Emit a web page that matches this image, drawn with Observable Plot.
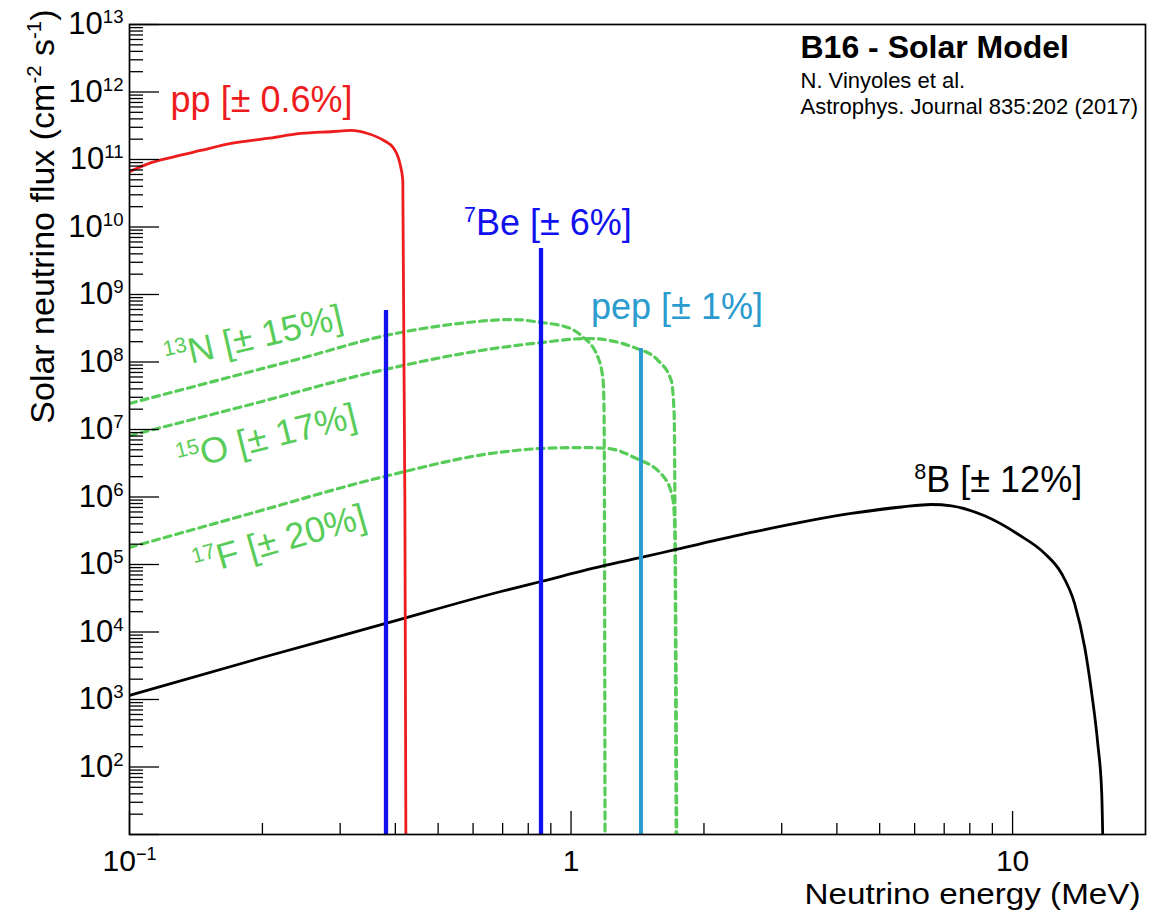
<!DOCTYPE html>
<html><head><meta charset="utf-8">
<script src="https://cdn.jsdelivr.net/npm/d3@7"></script>
<script src="https://cdn.jsdelivr.net/npm/@observablehq/plot@0.6"></script>
<style>body{margin:0;background:#fff;} svg{display:block}</style>
</head><body><div id="chart"></div>
<script>
// ---- data (energy in MeV, flux in cm^-2 s^-1 [MeV^-1]) ----
const ppE    = [0.10, 0.112, 0.124, 0.145, 0.17, 0.205, 0.244, 0.29, 0.317, 0.3465, 0.3767, 0.3969, 0.4097, 0.4159, 0.4204, 0.4226];
const ppFlux = [6.6e10, 9.0e10, 1.07e11, 1.36e11, 1.73e11, 2.05e11, 2.43e11, 2.6e11, 2.7e11, 2.43e11, 1.91e11, 1.46e11, 8.7e10, 4.9e10, 8.9e5, 10];

const b8E    = [0.1, 0.2, 0.3806, 0.6939, 0.855, 1.194, 1.426, 1.73, 2.559, 4.314, 5.6, 6.55, 7.27, 8.64, 10.31, 11.82, 12.91, 13.82, 14.57, 15.11, 15.59, 15.92, 16.0];
const b8Flux = [1.15e3, 4.19e3, 1.34e4, 3.98e4, 5.6e4, 9.67e4, 1.25e5, 1.67e5, 2.98e5, 5.7e5, 7.11e5, 7.74e5, 7.36e5, 5.26e5, 2.78e5, 1.46e5, 7.36e4, 2.64e4, 5.9e3, 1.23e3, 223, 40, 10];

const n13E    = [0.1, 0.1449, 0.2443, 0.3806, 0.5345, 0.7424, 0.855, 0.9845, 1.054, 1.151, 1.182, 1.188, 1.194];
const n13Flux = [2.43e7, 4.6e7, 1.13e8, 2.47e8, 3.6e8, 4.26e8, 3.85e8, 3.24e8, 2.47e8, 1.17e8, 5.3e7, 1.73e7, 10];

const o15E    = [0.1, 0.1881, 0.3708, 0.625, 0.855, 1.093, 1.39, 1.575, 1.686, 1.712, 1.73];
const o15Flux = [8.1e6, 2.35e7, 7.5e7, 1.48e8, 1.94e8, 2.23e8, 1.64e8, 1.05e8, 5.3e7, 1.73e7, 10];

const f17E    = [0.1, 0.1881, 0.3708, 0.683, 0.855, 1.054, 1.213, 1.39, 1.625, 1.703, 1.721, 1.735];
const f17Flux = [1.79e5, 5.7e5, 1.95e6, 4.56e6, 5.23e6, 5.4e6, 5.23e6, 3.85e6, 1.95e6, 8.9e5, 2.27e5, 10];

// line sources
const be7LineE = [0.381, 0.855];
const be7LineFlux = [5.8e8, 4.8e9];
const pepLineE = [1.44];
const pepLineFlux = [1.58e8];

// labels
const straightLabels = [
  {x: 0.1239, y: 4.97e11, text: "pp [± 0.6%]", color: "#ee1c1c"},
  {x: 0.572,  y: 7.5e9,   text: "^{7}Be [± 6%]", color: "#1111ee"},
  {x: 1.11,   y: 4.4e8,   text: "pep [± 1%]", color: "#2b9bd0"},
  {x: 5.99,   y: 1.17e6,  text: "^{8}B [± 12%]", color: "#000000"}
];
const cnoLabels = [
  {x: 0.191,  y: 2.31e8, text: "^{13}N [± 15%]", angle: -13},
  {x: 0.2045, y: 7.6e6,  text: "^{15}O [± 17%]", angle: -14},
  {x: 0.2188, y: 2.27e5, text: "^{17}F [± 20%]", angle: -16}
];

// axes
const xMajor = [0.1, 1, 10];
const xMinor = [0.2,0.3,0.4,0.5,0.6,0.7,0.8,0.9,2,3,4,5,6,7,8,9];
const xTickLabels = ["10^{−1}", "1", "10"];
const yMajor = [1e1,1e2,1e3,1e4,1e5,1e6,1e7,1e8,1e9,1e10,1e11,1e12,1e13];
const yLabelVals = [1e2,1e3,1e4,1e5,1e6,1e7,1e8,1e9,1e10,1e11,1e12,1e13];
const yTickLabels = ["10^{2}","10^{3}","10^{4}","10^{5}","10^{6}","10^{7}","10^{8}","10^{9}","10^{10}","10^{11}","10^{12}","10^{13}"];
const yMinor = [];
for (let n = 1; n < 13; n++) for (let k = 2; k <= 9; k++) yMinor.push(k * Math.pow(10, n));

const xTitle = "Neutrino energy (MeV)";
const yTitle = "Solar neutrino flux (cm^{-2} s^{-1})";

const rows = (xs, ys) => xs.map((x, i) => ({x, y: ys[i]}));
const rules = (xs, ys) => xs.map((x, i) => ({x, top: ys[i], base: 10}));

const green = "#58cc58";
const dash = "7,5";
const W = 1151, H = 910, mL = 129, mR = 6, mT = 24, mB = 76;
const plotW = W - mL - mR, plotH = H - mT - mB;

const chart = Plot.plot({
  width: W, height: H,
  marginLeft: mL, marginRight: mR, marginTop: mT, marginBottom: mB,
  x: {type: "log", domain: [0.1, 20], axis: null},
  y: {type: "log", domain: [10, 1e13], axis: null},
  style: {fontFamily: "'Liberation Sans', Arial, Helvetica, sans-serif", background: "#fff", color: "#000"},
  marks: [
    Plot.line(rows(n13E, n13Flux), {x: "x", y: "y", stroke: green, strokeWidth: 3.2, strokeDasharray: dash, curve: "monotone-x", clip: true}),
    Plot.line(rows(o15E, o15Flux), {x: "x", y: "y", stroke: green, strokeWidth: 3.2, strokeDasharray: dash, curve: "monotone-x", clip: true}),
    Plot.line(rows(f17E, f17Flux), {x: "x", y: "y", stroke: green, strokeWidth: 3.2, strokeDasharray: dash, curve: "monotone-x", clip: true}),
    Plot.line(rows(b8E, b8Flux), {x: "x", y: "y", stroke: "#000", strokeWidth: 2.8, curve: "monotone-x", clip: true}),
    Plot.line(rows(ppE, ppFlux), {x: "x", y: "y", stroke: "#ee1c1c", strokeWidth: 2.8, curve: "monotone-x", clip: true}),
    Plot.ruleX(rules(be7LineE, be7LineFlux), {x: "x", y1: "base", y2: "top", stroke: "#1111ee", strokeWidth: 4.3}),
    Plot.ruleX(rules(pepLineE, pepLineFlux), {x: "x", y1: "base", y2: "top", stroke: "#2b9bd0", strokeWidth: 4}),
    // ticks
    Plot.tickY(yMajor, {y: d => d, insetRight: plotW - 30, stroke: "#000", strokeWidth: 1.3}),
    Plot.tickY(yMinor, {y: d => d, insetRight: plotW - 14, stroke: "#000", strokeWidth: 1.3}),
    Plot.tickX(xMajor, {x: d => d, insetTop: plotH - 23, stroke: "#000", strokeWidth: 1.3}),
    Plot.tickX(xMinor, {x: d => d, insetTop: plotH - 11, stroke: "#000", strokeWidth: 1.3}),
    Plot.frame({stroke: "#000", strokeWidth: 1.7}),
    // tick labels
    Plot.text(yLabelVals, {y: d => d, text: (d, i) => yTickLabels[i], frameAnchor: "left", dx: -6, textAnchor: "end", lineAnchor: "middle", fontSize: 31}),
    Plot.text(xMajor, {x: d => d, text: (d, i) => xTickLabels[i], frameAnchor: "bottom", dy: 36, textAnchor: "middle", lineAnchor: "bottom", fontSize: 30}),
    // axis titles
    Plot.text([xTitle], {text: d => d, frameAnchor: "bottom-right", dx: -5, dy: 69.5, textAnchor: "end", lineAnchor: "bottom", fontSize: 29}),
    Plot.text([yTitle], {text: d => d, frameAnchor: "top-left", dx: -76, dy: -15, rotate: -90, textAnchor: "end", lineAnchor: "bottom", fontSize: 34}),
    // header
    Plot.text(["B16 - Solar Model"], {text: d => d, frameAnchor: "top-left", dx: 671, dy: 33, textAnchor: "start", lineAnchor: "bottom", fontSize: 32, fontWeight: "bold"}),
    Plot.text(["N. Vinyoles et al."], {text: d => d, frameAnchor: "top-left", dx: 671, dy: 63, textAnchor: "start", lineAnchor: "bottom", fontSize: 22}),
    Plot.text(["Astrophys. Journal 835:202 (2017)"], {text: d => d, frameAnchor: "top-left", dx: 671, dy: 89, textAnchor: "start", lineAnchor: "bottom", fontSize: 22}),
    // curve labels
    Plot.text(straightLabels, {x: "x", y: "y", text: "text", fill: d => d.color, textAnchor: "start", lineAnchor: "bottom", fontSize: 36}),
    Plot.text(cnoLabels, {x: "x", y: "y", text: "text", rotate: "angle", fill: green, textAnchor: "middle", lineAnchor: "middle", fontSize: 36})
  ],
  color: {type: "identity"}
});
document.getElementById("chart").append(chart);

// Render ^{...} as real superscript tspans
function supify(el) {
  const s = el.textContent;
  if (!s.includes("^{")) return;
  const fs = parseFloat(getComputedStyle(el).fontSize);
  const parts = s.split(/(\^\{[^}]*\})/).filter(p => p.length);
  el.textContent = "";
  let up = 0;
  for (const p of parts) {
    const t = document.createElementNS("http://www.w3.org/2000/svg", "tspan");
    if (p.startsWith("^{")) {
      t.textContent = p.slice(2, -1);
      t.setAttribute("font-size", (fs * 0.6).toFixed(1));
      const r = fs * 0.36;
      t.setAttribute("dy", (-r + up).toFixed(1));
      up = r;
    } else {
      t.textContent = p;
      if (up) { t.setAttribute("dy", up.toFixed(1)); up = 0; }
    }
    el.appendChild(t);
  }
}
d3.select(chart).selectAll("text").each(function() {
  if (this.textContent === xTitle) {
    // reference title is drawn wider than its height suggests
    this.setAttribute("textLength", "336");
    this.setAttribute("lengthAdjust", "spacingAndGlyphs");
  }
  supify(this);
});
</script>
</body></html>
